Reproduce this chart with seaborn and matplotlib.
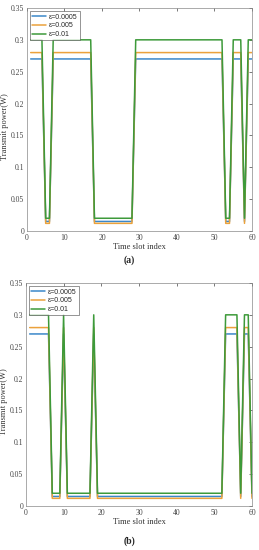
import numpy as np
import pandas as pd
import matplotlib
matplotlib.use("Agg")
import matplotlib.pyplot as plt
import seaborn as sns

# time slots 1..60
slots = list(range(1, 61))

# on/off state of each slot (1 = high power, 0 = low)
state_a = [1, 1, 1, 1, 0, 0, 1, 1, 1, 1,
           1, 1, 1, 1, 1, 1, 1, 0, 0, 0,
           0, 0, 0, 0, 0, 0, 0, 0, 1, 1,
           1, 1, 1, 1, 1, 1, 1, 1, 1, 1,
           1, 1, 1, 1, 1, 1, 1, 1, 1, 1,
           1, 1, 0, 0, 1, 1, 1, 0, 1, 1]
state_b = [1, 1, 1, 1, 1, 1, 0, 0, 0, 1,
           0, 0, 0, 0, 0, 0, 0, 1, 0, 0,
           0, 0, 0, 0, 0, 0, 0, 0, 0, 0,
           0, 0, 0, 0, 0, 0, 0, 0, 0, 0,
           0, 0, 0, 0, 0, 0, 0, 0, 0, 0,
           0, 0, 1, 1, 1, 1, 0, 1, 1, 0]

eps_labels = ["ε=0.0005", "ε=0.005", "ε=0.01"]
high_power = [0.27, 0.28, 0.30]
low_power = [0.015, 0.012, 0.02]
colors = ["#3b87c9", "#eba23c", "#3d9a3a"]

sns.set_style("white")
plt.rcParams["font.family"] = ["Liberation Serif", "DejaVu Serif"]


def make_df(state):
    rows = []
    for lab, hi, lo in zip(eps_labels, high_power, low_power):
        for s, on in zip(slots, state):
            rows.append({"slot": s, "power": hi if on else lo, "eps": lab})
    return pd.DataFrame(rows)


fig = plt.figure(figsize=(2.59, 5.5), dpi=100)
ax_a = fig.add_axes([0.104, 0.58, 0.869, 0.4055])
ax_b = fig.add_axes([0.100, 0.08, 0.873, 0.4055])

for ax, state, tag, ty in [(ax_a, state_a, "(a)", 0.518), (ax_b, state_b, "(b)", 0.008)]:
    df = make_df(state)
    sns.lineplot(data=df, x="slot", y="power", hue="eps", palette=colors,
                 linewidth=1.1, ax=ax)
    ax.set_xlim(0, 60)
    ax.set_ylim(0, 0.35)
    ax.set_xticks([0, 10, 20, 30, 40, 50, 60])
    ax.set_yticks([0, 0.05, 0.1, 0.15, 0.2, 0.25, 0.3, 0.35])
    ax.set_yticklabels(["0", "0.05", "0.1", "0.15", "0.2", "0.25", "0.3", "0.35"])
    ax.tick_params(direction="in", length=2, width=0.5, labelsize=5.5,
                   colors="#444444", top=True, right=True, pad=2)
    for sp in ax.spines.values():
        sp.set_linewidth(0.5)
        sp.set_color("#888888")
    ax.set_xlabel("Time slot index", fontsize=6, labelpad=1, color="#333333")
    ax.set_ylabel("Transmit power(W)", fontsize=6, color="#333333")
    ax.yaxis.set_label_coords(-0.08, 0.47)
    leg = ax.legend(loc="upper left", frameon=True, fancybox=False,
                    borderpad=0.3, labelspacing=0.25, handlelength=2.0,
                    handletextpad=0.4, borderaxespad=0.5,
                    prop={"family": "Liberation Sans", "size": 5})
    leg.get_frame().set_edgecolor("#444444")
    leg.get_frame().set_linewidth(0.5)
    fig.text(0.5, ty, tag, ha="center", va="bottom", fontsize=7,
             fontweight="bold")

fig.savefig("out.png", dpi=100)
